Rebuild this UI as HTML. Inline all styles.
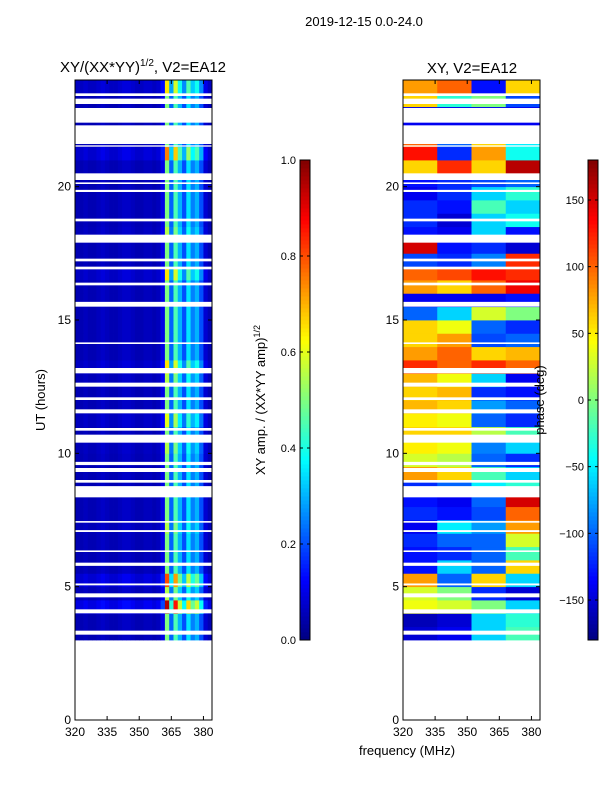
<!DOCTYPE html>
<html><head><meta charset="utf-8"><style>
body{margin:0;background:#fff;}
svg text{font-family:"Liberation Sans",sans-serif;fill:#000;}
</style></head><body>
<svg id="fig" width="600" height="800" xmlns="http://www.w3.org/2000/svg"></svg>
<script>
// ---- data ----
const rowStartHours = [3,3.5,4,4.5,5,5.5,6,6.5,7,7.5,8,8.5,9,9.5,10,10.5,11,11.5,12,12.5,13,13.5,14,14.5,15,15.5,16,16.5,17,17.5,18,18.5,19,19.5,20,20.5,21,21.5,22,22.5,23,23.5];
const ampFreqBins = [320,322,324,326,328,330,332,334,336,338,340,342,344,346,348,350,352,354,356,358,360,362,364,366,368,370,372,374,376,378,380,382];
const ampColumnProfile = [0.05,0.05,0.06,0.05,0.05,0.06,0.07,0.06,0.05,0.05,0.06,0.07,0.07,0.06,0.05,0.05,0.06,0.06,0.05,0.06,0.1,0.5,0.22,0.45,0.3,0.2,0.35,0.25,0.3,0.2,0.08,0.05];
const ampRowFactor = [1,1,1.9,1.1,1.6,1,1,1,1.1,1,1,1,1,1,1.1,1,1.2,1,1,1.1,1.3,1,1,1,1,1,1,1.3,1,1,1.1,1,1,1,1,1,1.5,1,1,1,1,1.3];
const phaseSegFreq = [320,336,352,368];
const phaseValues = [
[-150,-140,-60,-20],[-160,-150,-60,-30],[40,30,0,-60],[30,0,-120,-150],[80,-100,60,-60],
[-130,-60,-100,60],[-130,-120,-100,-20],[-120,-100,-100,30],[-140,-50,-80,80],[-120,-130,-110,100],
[-130,-140,-100,150],[-120,-100,-50,-30],[80,60,-20,-60],[30,20,-100,-120],[50,40,-90,-60],
[60,60,20,-20],[50,40,-100,-120],[70,60,-80,-100],[60,70,-120,-130],[70,40,-60,-140],
[120,100,120,100],[80,100,60,70],[60,80,-110,-100],[60,40,-100,-120],[-100,-60,30,0],
[-140,-140,-140,-130],[80,60,100,140],[100,110,130,120],[-110,-120,-90,120],[150,-130,-120,-150],
[-130,-140,-60,-130],[-120,-150,-60,-40],[-120,-130,-20,-60],[-140,-120,-60,-30],[-130,-120,-110,-100],
[60,120,60,160],[130,-120,80,-40],[100,-100,60,-50],[-140,-140,-140,-140],[-140,-140,-140,-140],[60,-30,0,-110],[80,100,-130,60]];
const gapStart = [3.2,4.0,4.6,5.05,5.78,6.3,7.05,7.4,8.35,8.9,9.3,9.56,10.4,10.85,11.5,12.0,12.5,13.0,14.1,15.5,16.3,16.9,17.2,17.9,18.7,19.8,20.1,20.25,21.5,21.6,22.4,23.1,23.4];
const gapEnd   = [3.35,4.15,4.75,5.12,5.9,6.36,7.12,7.46,8.77,9.0,9.45,9.68,10.7,10.95,11.65,12.1,12.65,13.2,14.16,15.68,16.4,17.0,17.3,18.2,18.8,19.88,20.16,20.5,21.55,22.3,22.95,23.3,23.5];
const yTicks = [0,5,10,15,20];
const xTicks = [320,335,350,365,380];
const ampCbTicks = [0.0,0.2,0.4,0.6,0.8,1.0];
const phaseCbTicks = [-150,-100,-50,0,50,100,150];

// ---- helpers ----
const NS="http://www.w3.org/2000/svg", svg=document.getElementById('fig');
function mk(tag,attrs,parent){const e=document.createElementNS(NS,tag);for(const k in attrs)e.setAttribute(k,attrs[k]);(parent||svg).appendChild(e);return e;}
function jet(t){t=Math.max(0,Math.min(1,t));
 const r=Math.max(0,Math.min(1,1.5-Math.abs(4*t-3))),g=Math.max(0,Math.min(1,1.5-Math.abs(4*t-2))),b=Math.max(0,Math.min(1,1.5-Math.abs(4*t-1)));
 return `rgb(${Math.round(r*255)},${Math.round(g*255)},${Math.round(b*255)})`;}
const Y0=720,Y1=80,H=24;
const yS=h=>Y0-(h/H)*(Y0-Y1);
function xScale(x0){return f=>x0+(f-320)*(137/64);}
const xL=xScale(75), xR=xScale(403);

function panel(x0,name,cellsFn){
 const g=mk('g',{});
 
 
 cellsFn(g);
 for(let i=0;i<gapStart.length;i++){
  const r=mk('rect',{x:x0,y:yS(gapEnd[i]),width:137,height:yS(gapStart[i])-yS(gapEnd[i]),fill:'#fff'},g);
  
  
 }
 const fr=mk('rect',{x:x0,y:80,width:137,height:640,fill:'none',stroke:'#000','stroke-width':1});
 
 
 const xs=xScale(x0);
 yTicks.forEach(t=>{const y=yS(t);
  mk('line',{x1:x0,x2:x0+4,y1:y,y2:y,stroke:'#000'});mk('line',{x1:x0+133,x2:x0+137,y1:y,y2:y,stroke:'#000'});
  const tx=mk('text',{x:x0-4,y:y+4,'text-anchor':'end','font-size':12});tx.textContent=t;
  
  });
 xTicks.forEach(t=>{const x=xs(t);
  mk('line',{x1:x,x2:x,y1:720,y2:716,stroke:'#000'});mk('line',{x1:x,x2:x,y1:80,y2:84,stroke:'#000'});
  const tx=mk('text',{x:x,y:736,'text-anchor':'middle','font-size':12});tx.textContent=t;
  
  });
}
panel(75,'amplitude-panel',g=>{
 rowStartHours.forEach((h,i)=>{ampFreqBins.forEach((f,j)=>{
  const v=ampColumnProfile[j]*ampRowFactor[i];
  const r=mk('rect',{x:xL(f),y:yS(h+0.5),width:xL(f+2)-xL(f)+0.4,height:yS(h)-yS(h+0.5)+0.4,fill:jet(v)},g);
  
  });});
});
panel(403,'phase-panel',g=>{
 rowStartHours.forEach((h,i)=>{phaseSegFreq.forEach((f,j)=>{
  const v=(phaseValues[i][j]+180)/360;
  const r=mk('rect',{x:xR(f),y:yS(h+0.5),width:xR(f+16)-xR(f)+0.4,height:yS(h)-yS(h+0.5)+0.4,fill:jet(v)},g);
  
  });});
});
function colorbar(x,name,ticks,lo,hi){
 const g=mk('g',{});
 
 
 for(let i=0;i<120;i++){mk('rect',{x:x,y:640-(i+1)*4,width:10,height:4.4,fill:jet((i+0.5)/120)},g);}
 mk('rect',{x:x,y:160,width:10,height:480,fill:'none',stroke:'#000'},g);
 ticks.forEach(t=>{const y=640-(t-lo)/(hi-lo)*480;
  mk('line',{x1:x,x2:x+3,y1:y,y2:y,stroke:'#000'},g);mk('line',{x1:x+7,x2:x+10,y1:y,y2:y,stroke:'#000'},g);
  const tx=mk('text',{x:x-4,y:y+4,'text-anchor':'end','font-size':11},g);
  tx.textContent=(Number.isInteger(t)&&lo<0)?(t<0?'\u2212'+(-t):t):t.toFixed(1);
  
  });
}
colorbar(300,'amp-colorbar',ampCbTicks,0,1);
colorbar(588,'phase-colorbar',phaseCbTicks,-180,180);
</script>
<svg width="600" height="800" style="position:absolute;left:0;top:0" xmlns="http://www.w3.org/2000/svg">
<text x="364" y="26" text-anchor="middle" font-size="13">2019-12-15 0.0-24.0</text>
<text x="143" y="72" text-anchor="middle" font-size="15">XY/(XX*YY)<tspan font-size="10" dy="-6">1/2</tspan><tspan dy="6">, V2=EA12</tspan></text>
<text x="472" y="73" text-anchor="middle" font-size="15">XY, V2=EA12</text>
<text x="45" y="400" text-anchor="middle" font-size="13" transform="rotate(-90 45 400)">UT (hours)</text>
<text x="407" y="755" text-anchor="middle" font-size="13">frequency (MHz)</text>
<text x="265" y="400" text-anchor="middle" font-size="13" transform="rotate(-90 265 400)">XY amp. / (XX*YY amp)<tspan font-size="9" dy="-5">1/2</tspan></text>
<text x="544" y="400" text-anchor="middle" font-size="13" transform="rotate(-90 544 400)">phase (deg)</text>
</svg>
</body></html>
